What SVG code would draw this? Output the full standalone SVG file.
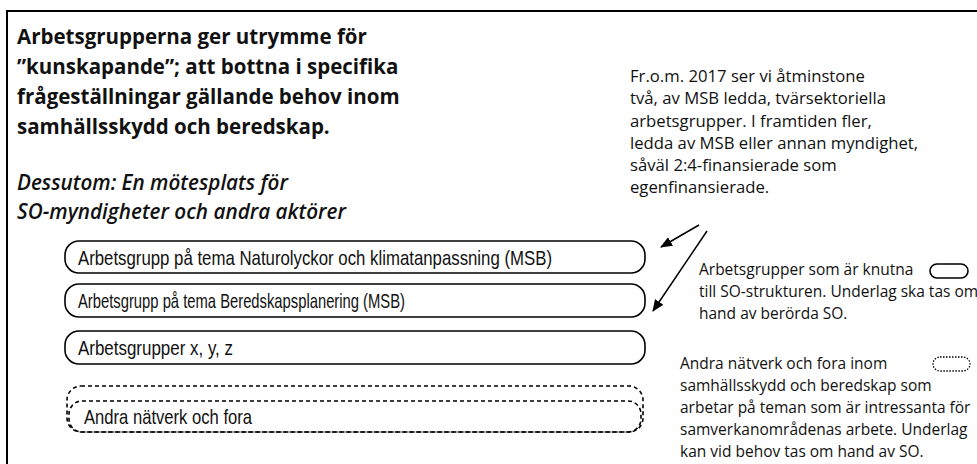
<svg xmlns="http://www.w3.org/2000/svg" width="977" height="464" viewBox="0 0 977 464">
<defs>
<marker id="ah" markerWidth="12" markerHeight="10" refX="11" refY="5" orient="auto" markerUnits="userSpaceOnUse">
<path d="M0,0 L12,5 L0,10 Z" fill="#000"/>
</marker>
</defs>
<style>
.t{font-family:"Open Sans","Noto Sans",sans-serif;fill:#111}
.title{font-size:20.5px;font-weight:bold}
.it{font-size:20.7px;font-style:italic;font-weight:600}
.r{font-size:16.7px}
.lg{font-size:15.5px}
.bx{font-family:"Liberation Sans",sans-serif;font-size:21px;fill:#111}
.box{fill:#fff;stroke:#000;stroke-width:1.6}
.dbox{fill:none;stroke:#000;stroke-width:1.6;stroke-dasharray:4,3}
.conn{stroke:#000;stroke-width:1.5;fill:none}
</style>
<rect width="977" height="464" fill="#fff"/>
<path d="M7,470 L7,11 L985,11" fill="none" stroke="#000" stroke-width="2"/>
<g id="title">
<text class="t title" x="17" y="44">Arbetsgrupperna ger utrymme för</text>
<text class="t title" x="17" y="74">”kunskapande”; att bottna i specifika</text>
<text class="t title" x="17" y="104">frågeställningar gällande behov inom</text>
<text class="t title" x="17" y="134">samhällsskydd och beredskap.</text>
<text class="t it" x="17" y="190">Dessutom: En mötesplats för</text>
<text class="t it" x="17" y="219">SO-myndigheter och andra aktörer</text>
</g>
<g id="note">
<text class="t r" x="630" y="82">Fr.o.m. 2017 ser vi åtminstone</text>
<text class="t r" x="630" y="104">två, av MSB ledda, tvärsektoriella</text>
<text class="t r" x="630" y="127">arbetsgrupper. I framtiden fler,</text>
<text class="t r" x="630" y="149">ledda av MSB eller annan myndighet,</text>
<text class="t r" x="630" y="171">såväl 2:4-finansierade som</text>
<text class="t r" x="630" y="193">egenfinansierade.</text>
</g>
<g id="box1">
<rect class="box" x="65" y="241" width="580" height="32" rx="14"/>
<text class="bx" x="78" y="265" textLength="474" lengthAdjust="spacingAndGlyphs">Arbetsgrupp på tema Naturolyckor och klimatanpassning (MSB)</text>
</g>
<g id="box2">
<rect class="box" x="65" y="284" width="580" height="33" rx="14"/>
<text class="bx" x="78" y="308" textLength="327" lengthAdjust="spacingAndGlyphs">Arbetsgrupp på tema Beredskapsplanering (MSB)</text>
</g>
<g id="box3">
<rect class="box" x="65" y="331" width="580" height="33" rx="14"/>
<text class="bx" x="78" y="355" textLength="155" lengthAdjust="spacingAndGlyphs">Arbetsgrupper x, y, z</text>
</g>
<g id="box4">
<rect class="dbox" x="67" y="386" width="576" height="46" rx="14"/>
<rect class="dbox" x="69" y="401" width="572" height="31" rx="13"/>
<text class="bx" x="84" y="424" textLength="168" lengthAdjust="spacingAndGlyphs">Andra nätverk och fora</text>
</g>
<g id="connectors">
<line class="conn" x1="699" y1="225" x2="661" y2="247" marker-end="url(#ah)"/>
<line class="conn" x1="707" y1="231" x2="653" y2="311" marker-end="url(#ah)"/>
</g>
<g id="legend1">
<text class="t lg" x="699" y="275">Arbetsgrupper som är knutna</text>
<text class="t lg" x="699" y="297">till SO-strukturen. Underlag ska tas om</text>
<text class="t lg" x="699" y="319">hand av berörda SO.</text>
<rect class="box" x="930" y="264" width="38" height="14" rx="7"/>
</g>
<g id="legend2">
<text class="t lg" x="680" y="369">Andra nätverk och fora inom</text>
<text class="t lg" x="680" y="391">samhällsskydd och beredskap som</text>
<text class="t lg" x="680" y="413">arbetar på teman som är intressanta för</text>
<text class="t lg" x="680" y="435">samverkanområdenas arbete. Underlag</text>
<text class="t lg" x="680" y="457">kan vid behov tas om hand av SO.</text>
<rect x="933" y="357" width="37" height="14" rx="7" fill="none" stroke="#000" stroke-width="1.3" stroke-dasharray="1.5,1.5"/>
</g>
</svg>
